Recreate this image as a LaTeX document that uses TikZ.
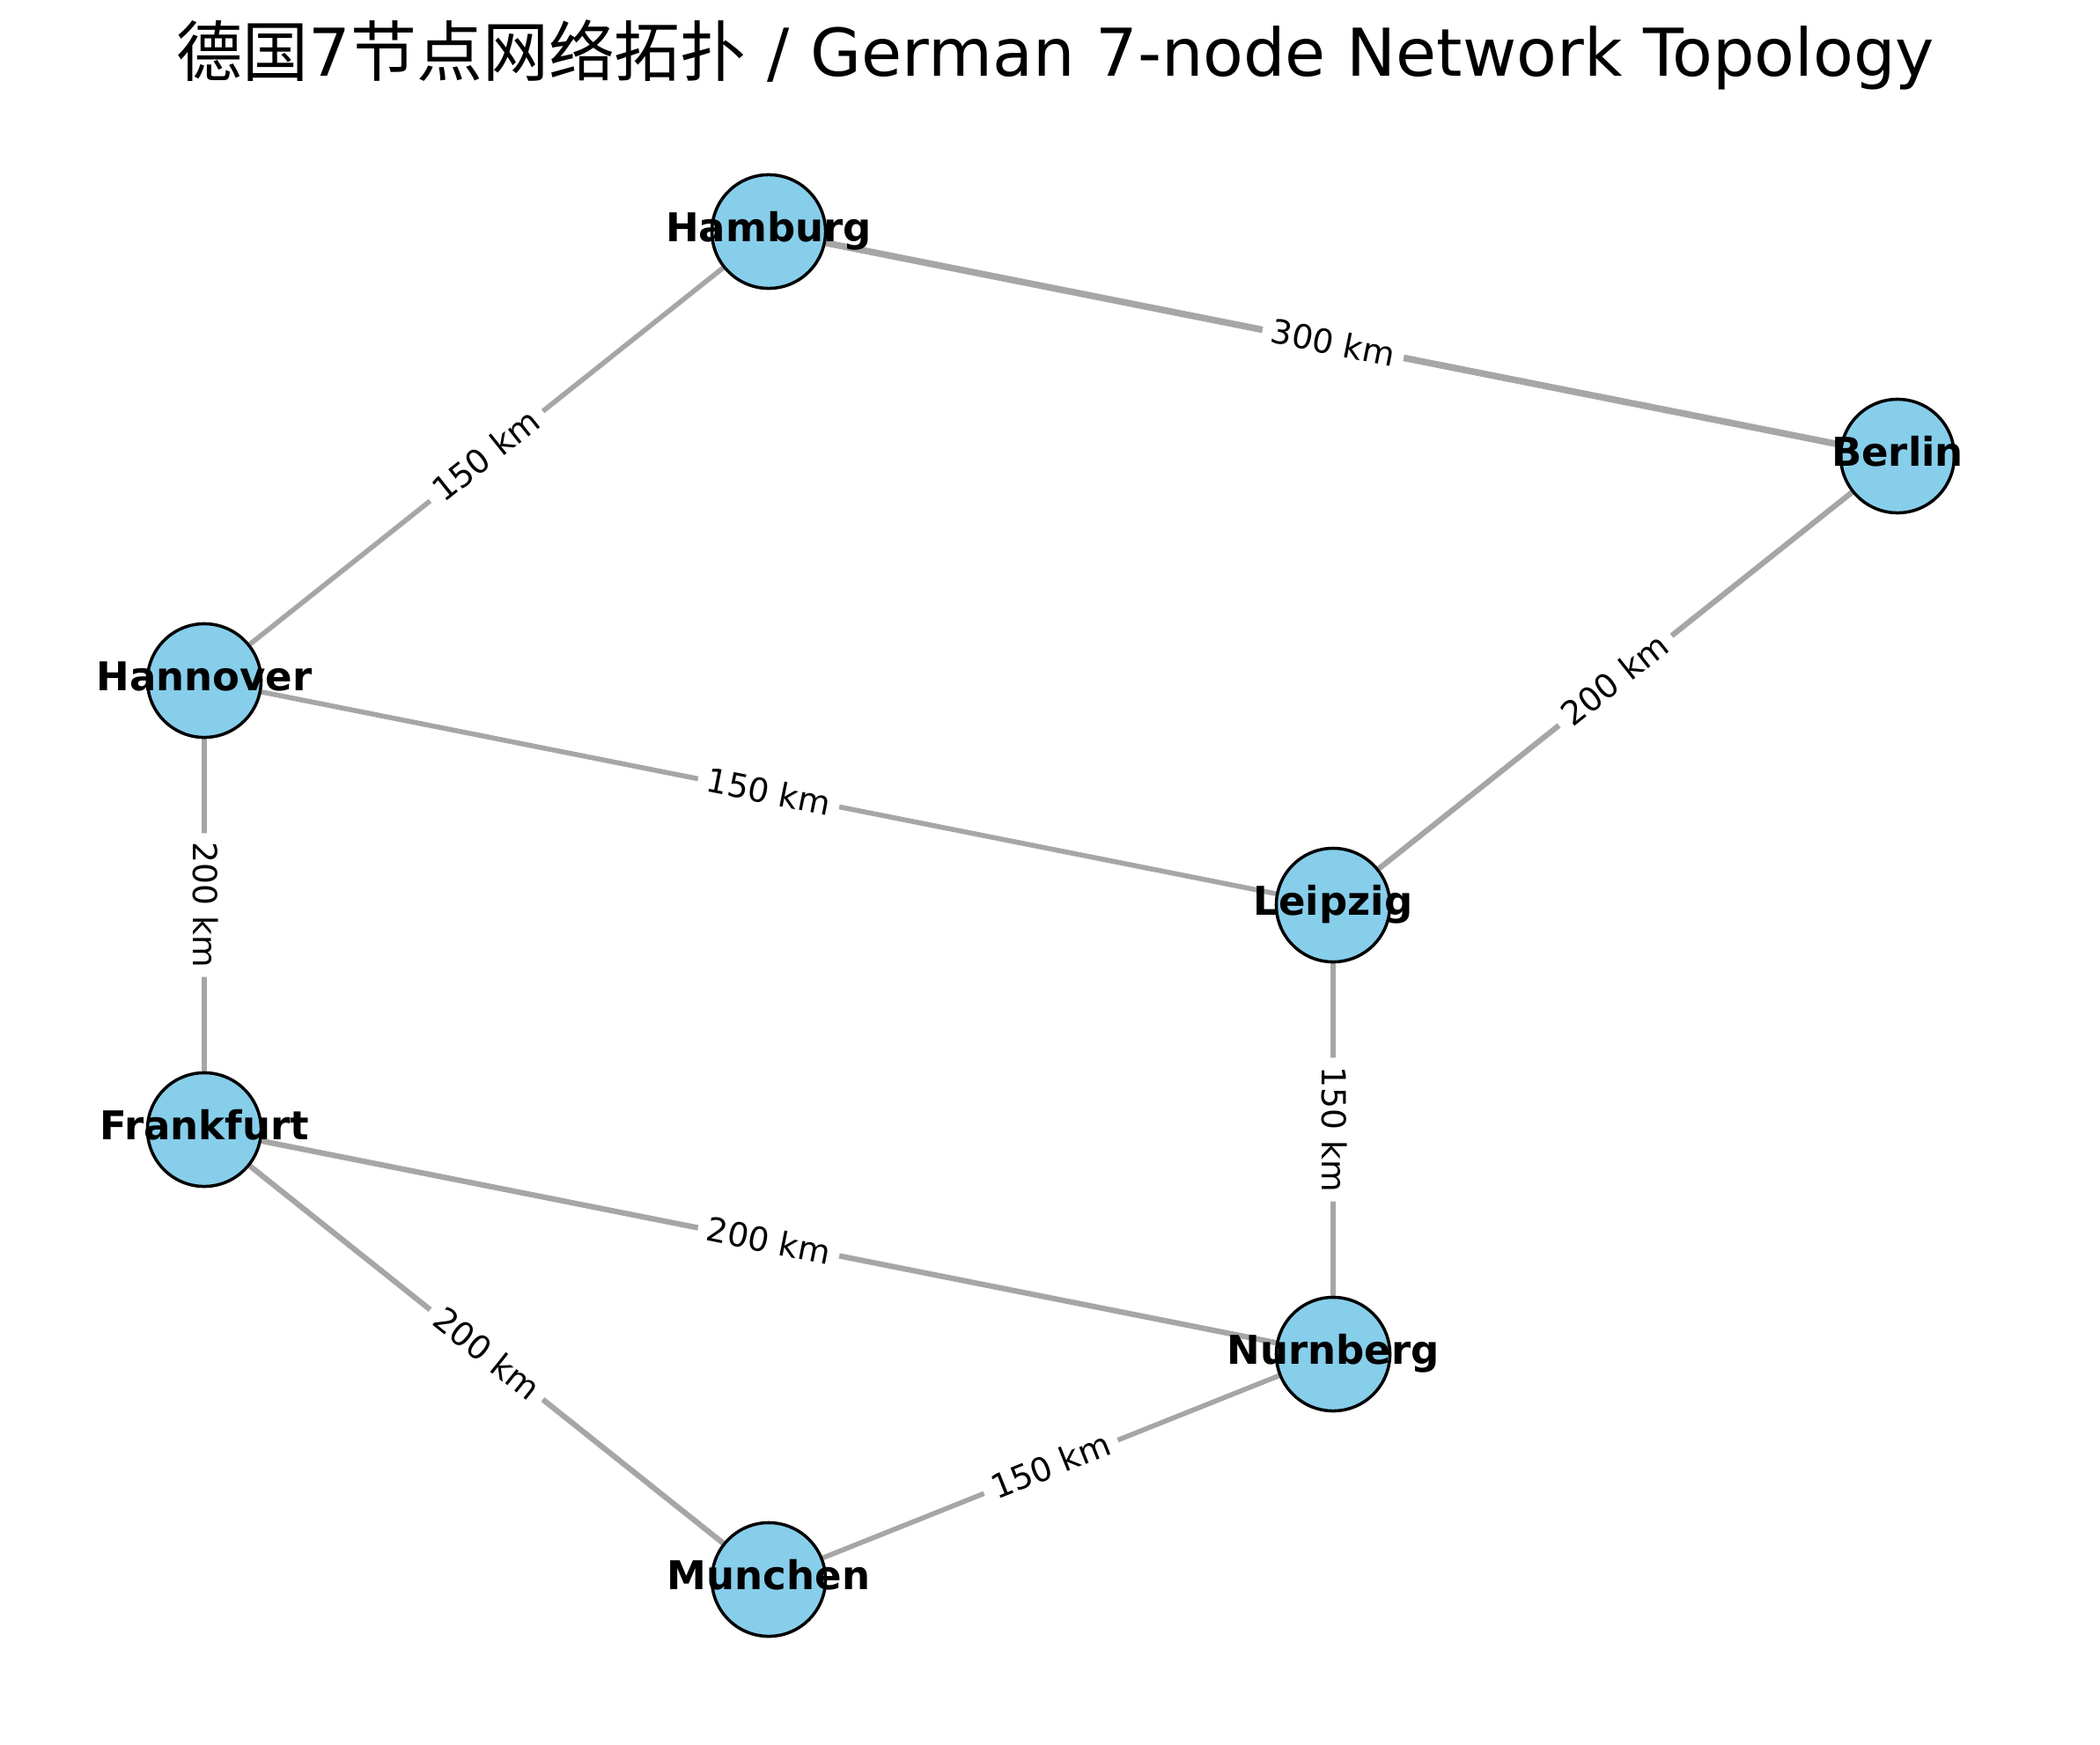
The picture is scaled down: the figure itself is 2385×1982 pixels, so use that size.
\documentclass[tikz,border=0pt]{standalone}
\usepackage{fontspec}
\setmainfont{DejaVu Sans}
\newfontfamily\cjk{Noto Sans CJK SC}
\usetikzlibrary{backgrounds}
\definecolor{cityblue}{HTML}{87CEEB}
\definecolor{roadgray}{HTML}{A6A6A6}

\begin{document}
\begin{tikzpicture}[x=0.01cm,y=-0.01cm,
        city/.style={circle,draw=black,line width=1pt,fill=cityblue,minimum size=1.29cm,inner sep=0pt},
        cityname/.style={inner sep=0pt,font=\fontsize{12.8}{15}\selectfont\bfseries,text height=0.9em,text depth=0.24em},
        road/.style={draw=roadgray,line width=#1},
        km/.style={midway,sloped,fill=white,rounded corners=3pt,inner sep=3pt,font=\fontsize{10.7}{12}\selectfont,text height=0.75em,text depth=0.05em}]
    \useasboundingbox (0,0) rectangle (2385,1982);

    % Title
    \node[anchor=base,inner sep=0pt,font=\fontsize{21.3}{25}\selectfont] (title) at (1199,87)
        {{\cjk 德国}7{\cjk 节点网络拓扑} / German 7-node Network Topology};

    % Cities
    \node[city,label={[cityname]center:Hamburg}] (hamburg) at (873,263) {};
    \node[city,label={[cityname]center:Berlin}] (berlin) at (2155,518) {};
    \node[city,label={[cityname]center:Hannover}] (hannover) at (232,773) {};
    \node[city,label={[cityname]center:Leipzig}] (leipzig) at (1514,1028) {};
    \node[city,label={[cityname]center:Frankfurt}] (frankfurt) at (232,1283) {};
    \node[city,label={[cityname]center:Nurnberg}] (nurnberg) at (1514,1538) {};
    \node[city,label={[cityname]center:Munchen}] (munchen) at (873,1794) {};

    % Links with distances
    \begin{pgfonlayer}{background}
        \draw[road=2.13pt] (hamburg) -- (berlin) node[km] {300 km};
        \draw[road=1.6pt] (hannover) -- (hamburg) node[km] {150 km};
        \draw[road=1.78pt] (leipzig) -- (berlin) node[km] {200 km};
        \draw[road=1.6pt] (hannover) -- (leipzig) node[km] {150 km};
        \draw[road=1.78pt] (hannover) -- (frankfurt) node[km] {200 km};
        \draw[road=1.6pt] (leipzig) -- (nurnberg) node[km] {150 km};
        \draw[road=1.78pt] (frankfurt) -- (nurnberg) node[km] {200 km};
        \draw[road=1.78pt] (frankfurt) -- (munchen) node[km] {200 km};
        \draw[road=1.6pt] (munchen) -- (nurnberg) node[km] {150 km};
    \end{pgfonlayer}
\end{tikzpicture}
\end{document}
